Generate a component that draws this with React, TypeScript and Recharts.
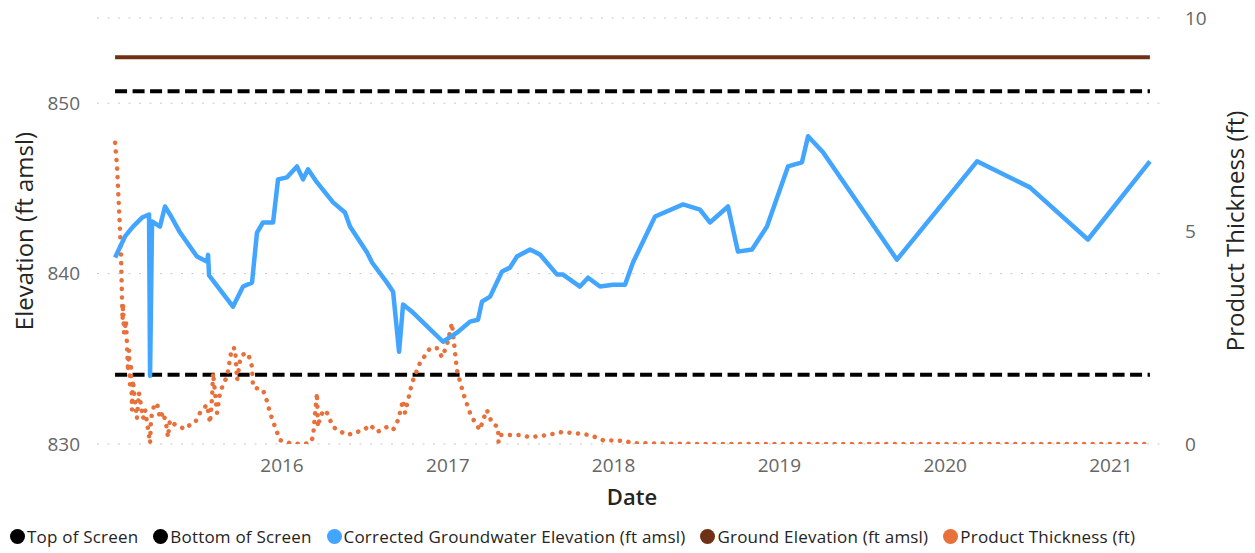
import React from 'react';
import { LineChart, Line, XAxis, YAxis, CartesianGrid, Legend } from 'recharts';

const FONT = '"Segoe UI", "Open Sans", "DejaVu Sans", sans-serif';

// Date range (decimal years)
const firstDate = 2014.993;
const lastDate = 2021.235;

// Constant levels (ft amsl)
const topOfScreen = 850.7;
const bottomOfScreen = 834.06;
const groundElevation = 852.7;

// Corrected groundwater elevation (ft amsl)
const gwDates = [
  2014.993, 2015.053, 2015.101, 2015.156, 2015.198, 2015.204, 2015.216, 2015.264, 2015.294, 2015.324,
  2015.385, 2015.487, 2015.548, 2015.554, 2015.560, 2015.704, 2015.765, 2015.819, 2015.849, 2015.885,
  2015.946, 2015.976, 2016.030, 2016.090, 2016.127, 2016.157, 2016.211, 2016.308, 2016.380, 2016.410,
  2016.513, 2016.543, 2016.633, 2016.670, 2016.706, 2016.730, 2016.790, 2016.971, 2017.055, 2017.134,
  2017.182, 2017.206, 2017.255, 2017.327, 2017.375, 2017.417, 2017.496, 2017.556, 2017.659, 2017.695,
  2017.797, 2017.846, 2017.918, 2017.996, 2018.069, 2018.117, 2018.250, 2018.419, 2018.521, 2018.581,
  2018.690, 2018.750, 2018.835, 2018.925, 2019.052, 2019.136, 2019.173, 2019.263, 2019.709, 2020.192,
  2020.511, 2020.861, 2021.235,
];
const gwValues = [
  840.94, 842.18, 842.76, 843.29, 843.47, 834.0, 843.06, 842.76, 843.94, 843.47,
  842.41, 841.0, 840.7, 841.1, 839.9, 838.06, 839.24, 839.47, 842.41, 843.0,
  843.0, 845.53, 845.65, 846.29, 845.53, 846.12, 845.35, 844.18, 843.59, 842.76,
  841.24, 840.65, 839.47, 838.94, 835.41, 838.18, 837.71, 836.0, 836.53, 837.18,
  837.29, 838.35, 838.65, 840.12, 840.35, 841.0, 841.41, 841.12, 839.94, 839.94,
  839.24, 839.76, 839.24, 839.35, 839.35, 840.65, 843.35, 844.06, 843.76, 843.0,
  843.94, 841.29, 841.41, 842.76, 846.29, 846.53, 848.06, 847.12, 840.82, 846.59,
  845.06, 842.0, 846.59,
];

// Product thickness (ft)
const ptDates = [
  2014.993, 2014.999, 2015.005, 2015.011, 2015.017, 2015.023, 2015.029, 2015.032, 2015.035, 2015.038,
  2015.041, 2015.047, 2015.059, 2015.065, 2015.071, 2015.077, 2015.083, 2015.089, 2015.095, 2015.101,
  2015.113, 2015.125, 2015.137, 2015.150, 2015.162, 2015.174, 2015.186, 2015.204, 2015.210, 2015.228,
  2015.246, 2015.264, 2015.282, 2015.300, 2015.312, 2015.324, 2015.355, 2015.385, 2015.415, 2015.445,
  2015.475, 2015.505, 2015.530, 2015.548, 2015.566, 2015.578, 2015.584, 2015.596, 2015.608, 2015.626,
  2015.650, 2015.668, 2015.686, 2015.698, 2015.717, 2015.729, 2015.747, 2015.765, 2015.789, 2015.807,
  2015.819, 2015.825, 2015.855, 2015.885, 2015.910, 2015.928, 2015.958, 2015.988, 2016.048, 2016.109,
  2016.169, 2016.187, 2016.199, 2016.211, 2016.217, 2016.229, 2016.253, 2016.271, 2016.308, 2016.350,
  2016.392, 2016.452, 2016.501, 2016.531, 2016.573, 2016.633, 2016.670, 2016.700, 2016.730, 2016.742,
  2016.784, 2016.832, 2016.893, 2016.935, 2016.965, 2016.995, 2017.025, 2017.031, 2017.055, 2017.092,
  2017.134, 2017.164, 2017.194, 2017.212, 2017.236, 2017.267, 2017.303, 2017.306, 2017.315, 2017.435,
  2017.496, 2017.598, 2017.689, 2017.755, 2017.858, 2017.936, 2018.069, 2018.117, 2018.521, 2019.124,
  2019.727, 2020.331, 2020.934, 2021.235,
];
const ptValues = [
  7.07, 6.8, 6.5, 6.0, 5.5, 5.0, 4.4, 3.9, 3.4, 2.9,
  3.3, 2.6, 2.9, 2.3, 1.7, 2.2, 1.4, 1.9, 0.8, 1.5,
  1.0, 0.6, 1.2, 0.9, 0.6, 0.8, 0.5, 0.02, 0.6, 0.9,
  0.96, 0.6, 0.75, 0.5, 0.16, 0.56, 0.45, 0.4, 0.35, 0.45,
  0.5, 0.73, 0.85, 0.92, 0.49, 1.1, 1.67, 1.2, 0.73, 1.2,
  1.45, 1.57, 2.0, 2.25, 2.25, 1.5, 1.97, 2.1, 2.14, 2.0,
  1.81, 1.34, 1.3, 1.27, 1.0, 0.73, 0.4, 0.09, 0.02, 0.0,
  0.02, 0.16, 0.7, 1.2, 0.4, 0.63, 0.8, 0.73, 0.4, 0.3,
  0.21, 0.28, 0.35, 0.45, 0.28, 0.4, 0.33, 0.56, 1.03, 0.73,
  1.43, 1.9, 2.25, 2.25, 2.04, 2.32, 2.84, 2.6, 1.74, 1.2,
  0.73, 0.5, 0.33, 0.56, 0.8, 0.49, 0.4, 0.05, 0.21, 0.21,
  0.16, 0.21, 0.28, 0.26, 0.21, 0.09, 0.07, 0.02, 0, 0,
  0, 0, 0, 0,
];

const xTicks = [2016, 2017, 2018, 2019, 2020, 2021];
const leftTicks = [830, 840, 850];
const rightTicks = [0, 5, 10];

const seriesNames = [
  'Top of Screen',
  'Bottom of Screen',
  'Corrected Groundwater Elevation (ft amsl)',
  'Ground Elevation (ft amsl)',
  'Product Thickness (ft)',
];
const seriesColors = ['#000000', '#000000', '#42A5FF', '#6E3116', '#E8703A'];

const gwData = gwDates.map((x, i) => ({ x, v: gwValues[i] }));
const ptData = ptDates.map((x, i) => ({ x, v: ptValues[i] }));
const topData = [{ x: firstDate, v: topOfScreen }, { x: lastDate, v: topOfScreen }];
const bottomData = [{ x: firstDate, v: bottomOfScreen }, { x: lastDate, v: bottomOfScreen }];
const groundData = [{ x: firstDate, v: groundElevation }, { x: lastDate, v: groundElevation }];

const tickStyle = { fill: '#666666', fontSize: 19, fontFamily: FONT };
const titleStyle = { fill: '#252423', fontSize: 24, fontFamily: FONT };

const renderLegend = () => (
  <div
    style={{
      display: 'flex',
      alignItems: 'center',
      height: 30,
      paddingLeft: 10,
      fontFamily: FONT,
      fontSize: 17,
      letterSpacing: 0.2,
      color: '#252423',
      whiteSpace: 'nowrap',
    }}
  >
    {seriesNames.map((name, i) => (
      <div key={name} style={{ display: 'flex', alignItems: 'center', marginRight: 15 }}>
        <span
          style={{
            display: 'inline-block',
            width: 15,
            height: 15,
            borderRadius: 8,
            background: seriesColors[i],
            marginRight: 2,
          }}
        />
        <span>{name}</span>
      </div>
    ))}
  </div>
);

export default function App() {
  return (
    <div style={{ position: 'absolute', left: 0, top: 0, width: 1255, height: 553, background: '#fff' }}>
      <LineChart width={1255} height={553} margin={{ top: 18, right: 0, bottom: 2, left: 0 }}>
        <CartesianGrid yAxisId="left" vertical={false} stroke="#c8c8c8" strokeDasharray="2 8.5" />
        <XAxis
          dataKey="x"
          type="number"
          domain={[2014.884, 2021.338]}
          allowDataOverflow
          ticks={xTicks}
          tickFormatter={(v: number) => String(v)}
          axisLine={false}
          tickLine={false}
          tickSize={0}
          tickMargin={15}
          height={77}
          tick={tickStyle}
          label={{
            value: 'Date',
            position: 'insideBottom',
            offset: 16,
            style: { fill: '#252423', fontSize: 22, fontFamily: FONT, fontWeight: 600 },
          }}
        />
        <YAxis
          yAxisId="left"
          orientation="left"
          width={97}
          domain={[830, 855]}
          ticks={leftTicks}
          allowDataOverflow
          axisLine={false}
          tickLine={false}
          tickSize={0}
          tickMargin={17}
          tick={tickStyle}
          label={{
            value: 'Elevation (ft amsl)',
            angle: -90,
            position: 'insideLeft',
            offset: 24,
            style: { ...titleStyle, textAnchor: 'middle' },
          }}
        />
        <YAxis
          yAxisId="right"
          orientation="right"
          width={88}
          domain={[0, 10]}
          ticks={rightTicks}
          allowDataOverflow
          axisLine={false}
          tickLine={false}
          tickSize={0}
          tickMargin={18}
          tick={tickStyle}
          label={{
            value: 'Product Thickness (ft)',
            angle: -90,
            position: 'insideRight',
            offset: 20,
            style: { ...titleStyle, textAnchor: 'middle' },
          }}
        />
        <Legend verticalAlign="bottom" align="left" height={30} content={renderLegend} wrapperStyle={{ left: 0 }} />
        <Line
          yAxisId="left"
          data={topData}
          dataKey="v"
          name={seriesNames[0]}
          stroke={seriesColors[0]}
          strokeWidth={4}
          strokeDasharray="12 5.5"
          dot={false}
          isAnimationActive={false}
        />
        <Line
          yAxisId="left"
          data={bottomData}
          dataKey="v"
          name={seriesNames[1]}
          stroke={seriesColors[1]}
          strokeWidth={4}
          strokeDasharray="12 5.5"
          dot={false}
          isAnimationActive={false}
        />
        <Line
          yAxisId="left"
          data={groundData}
          dataKey="v"
          name={seriesNames[3]}
          stroke={seriesColors[3]}
          strokeWidth={4}
          dot={false}
          isAnimationActive={false}
        />
        <Line
          yAxisId="right"
          data={ptData}
          dataKey="v"
          name={seriesNames[4]}
          stroke={seriesColors[4]}
          strokeWidth={4.5}
          strokeDasharray="0.1 8.5"
          strokeLinecap="round"
          dot={false}
          isAnimationActive={false}
        />
        <Line
          yAxisId="left"
          data={gwData}
          dataKey="v"
          name={seriesNames[2]}
          stroke={seriesColors[2]}
          strokeWidth={4.5}
          strokeLinejoin="round"
          dot={false}
          isAnimationActive={false}
        />
      </LineChart>
    </div>
  );
}
